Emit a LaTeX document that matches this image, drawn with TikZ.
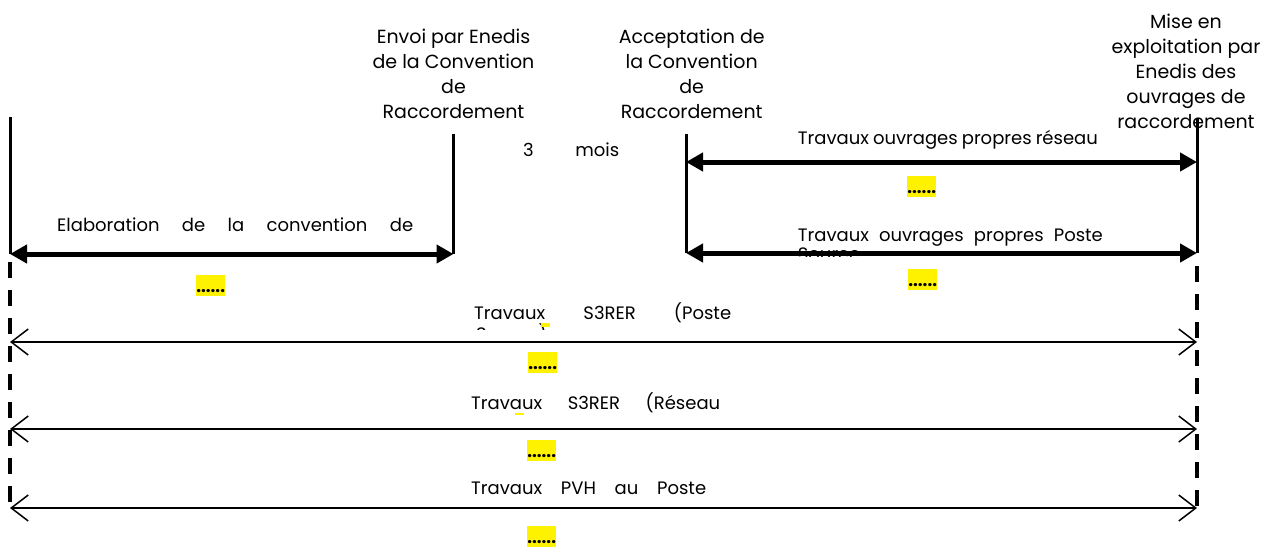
\documentclass[tikz,border=0pt]{standalone}
\usepackage{fontspec}
\setmainfont{Poppins}
\usetikzlibrary{arrows.meta}
\tikzset{
  vline/.style={line width=3pt},
  dline/.style={line width=3.5pt, dash pattern=on 16pt off 12pt},
  bigarrow/.style={line width=5pt, {Triangle[length=17pt,width=18pt]}-{Triangle[length=17pt,width=18pt]}},
  thinarrow/.style={line width=1.5pt, {Straight Barb[length=17pt,width=26pt]}-{Straight Barb[length=17pt,width=26pt]}},
  head/.style={font=\fontsize{19}{25}\selectfont, align=center, inner sep=0pt, anchor=base},
  lab/.style={font=\fontsize{18}{21}\selectfont, inner sep=0pt, anchor=base west},
  hl/.style={fill=yellow, inner sep=0pt, anchor=north west, minimum width=29pt, minimum height=21pt,
    font=\fontsize{17}{17}\selectfont\bfseries, text height=17pt, text depth=4pt},
}
\begin{document}
\begin{tikzpicture}[x=1pt,y=-1pt]
\useasboundingbox (0,0) rectangle (1267,550);
% coordinates
\coordinate (Ltop) at (10,117);
\coordinate (Lmid) at (10,254);
\coordinate (Ldash) at (10,262);
\coordinate (Lbot) at (10,508);
\coordinate (Etop) at (453.5,134);
\coordinate (Ebot) at (453.5,254);
\coordinate (Atop) at (686,134);
\coordinate (Abot) at (686,253);
\coordinate (Aup) at (686,162);
\coordinate (Rtop) at (1197,118);
\coordinate (Rup) at (1197,162);
\coordinate (Rmid) at (1197,253);
\coordinate (Rdash) at (1197,266);
\coordinate (Rbot) at (1197,508);
\coordinate (L1) at (10,342);
\coordinate (R1) at (1197,342);
\coordinate (L2) at (10,429);
\coordinate (R2) at (1197,429);
% verticals
\draw[vline] (Ltop) -- (Lmid);
\draw[vline] (Etop) -- (Ebot);
\draw[vline] (Atop) -- (Abot);
\draw[vline] (Rtop) -- (Rmid);
\draw[dline] (Ldash) -- (Lbot);
\draw[dline] (Rdash) -- (Rbot);
% headers (anchor base = baseline of last line)
\node[head] (envoi) at (453.5,118.3) {Envoi par Enedis\\de la Convention\\de\\Raccordement};
\node[head] (accept) at (691.7,118.3) {Acceptation de\\la Convention\\de\\Raccordement};
\node[head] (mise) at (1186,128) {Mise en\\exploitation par\\Enedis des\\ouvrages de\\raccordement};
% labels
\node[lab] (elab) at (57,231.7) {\makebox[356pt][s]{Elaboration de la convention de}};
\node[lab] (mois) at (523,156) {\makebox[96pt][s]{3 mois}};
\node[lab] (reseau) at (797.7,144.8) {\makebox[300pt][s]{Travaux ouvrages propres réseau}};
\node[lab] (poste) at (797.7,241.7) {\makebox[305pt][s]{Travaux ouvrages propres Poste}};
\begin{scope}
  \clip (790,240) rectangle (900,256);
  \node[lab] (source1) at (797.7,260) {Source};
\end{scope}
\node[lab] (s3p) at (474,319.3) {\makebox[257pt][s]{Travaux S3RER (Poste}};
\begin{scope}
  \clip (470,320) rectangle (560,329);
  \node[lab] (source2) at (476,340) {Source)};
\end{scope}
\node[lab] (s3r) at (471,409) {\makebox[249pt][s]{Travaux S3RER (Réseau}};
\node[lab] (pvh) at (471,494.3) {\makebox[235pt][s]{Travaux PVH au Poste}};
% arrows
\draw[bigarrow] (Lmid) -- (Ebot);
\draw[bigarrow] (Aup) -- (Rup);
\draw[bigarrow] (Abot) -- (Rmid);
\draw[thinarrow] (L1) -- (R1);
\draw[thinarrow] (L2) -- (R2);
\draw[thinarrow] (Lbot) -- (Rbot);
% highlights
\fill[yellow] (541,323) rectangle (550,327);
\fill[yellow] (515,413) rectangle (524,415);
\node[hl] (d1) at (196,275) {......};
\node[hl] (d2) at (907,176) {......};
\node[hl] (d3) at (908,269) {......};
\node[hl] (d4) at (528,352) {......};
\node[hl] (d5) at (527,440) {......};
\node[hl] (d6) at (527,526) {......};
\end{tikzpicture}
\end{document}
